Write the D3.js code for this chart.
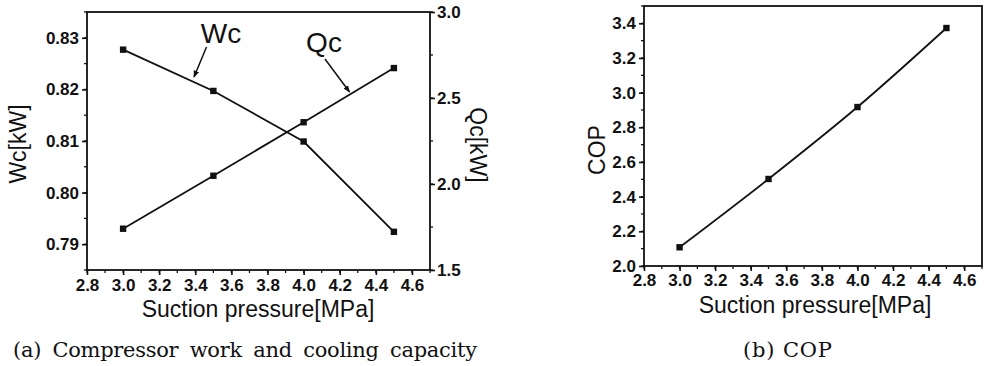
<!DOCTYPE html>
<html>
<head>
<meta charset="utf-8">
<script src="https://cdn.jsdelivr.net/npm/d3@7"></script>
<style>
  body { margin: 0; background: #fff; }
  svg { display: block; }
  .tick text { font-family: "Liberation Sans", Arial, sans-serif; font-weight: bold; font-size: 17px; fill: #111; }
  .domain, .tick line { stroke: #111; stroke-width: 1.6; }
</style>
</head>
<body>
<div id="chart"></div>
<script>
var width = 986, height = 366;

// data
var pressure = [3.0, 3.5, 4.0, 4.5];
var wcValues = [0.8277, 0.8197, 0.8099, 0.7924];
var qcValues = [1.740, 2.048, 2.359, 2.674];
var copValues = [2.108, 2.502, 2.917, 3.373];

var xTicks = [2.8, 3.0, 3.2, 3.4, 3.6, 3.8, 4.0, 4.2, 4.4, 4.6];
var wcTicks = [0.79, 0.80, 0.81, 0.82, 0.83];
var qcTicks = [1.5, 2.0, 2.5, 3.0];
var copTicks = [2.0, 2.2, 2.4, 2.6, 2.8, 3.0, 3.2, 3.4];

var svg = d3.select('#chart').append('svg')
    .attr('width', width)
    .attr('height', height);

var defs = svg.append('defs');
defs.append('marker')
    .attr('id', 'arrow')
    .attr('viewBox', '0 0 10 10')
    .attr('refX', 9).attr('refY', 5)
    .attr('markerWidth', 7).attr('markerHeight', 7)
    .attr('markerUnits', 'userSpaceOnUse')
    .attr('orient', 'auto')
    .append('path')
    .attr('d', 'M0,1 L10,5 L0,9 Z')
    .attr('fill', '#111');

function minorTicks(scale, step) {
    var d = scale.domain(), out = [];
    var lo = Math.min(d[0], d[1]), hi = Math.max(d[0], d[1]);
    for (var v = Math.ceil(lo / step - 1e-6) * step; v <= hi + 1e-9; v += step) out.push(+v.toFixed(6));
    return out;
}

function drawMinor(g, scale, step, orient, len) {
    var vals = minorTicks(scale, step);
    g.selectAll('line.minor').data(vals).enter().append('line')
        .attr('class', 'minor')
        .attr('stroke', '#111').attr('stroke-width', 1.3)
        .attr('x1', (d) => orient === 'v' ? 0 : scale(d))
        .attr('x2', (d) => orient === 'v' ? len : scale(d))
        .attr('y1', (d) => orient === 'v' ? scale(d) : 0)
        .attr('y2', (d) => orient === 'v' ? scale(d) : len);
}

function frame(g, w, h) {
    g.append('rect')
        .attr('x', 0).attr('y', 0)
        .attr('width', w).attr('height', h)
        .attr('fill', 'none')
        .attr('stroke', '#111')
        .attr('stroke-width', 1.8);
}

function squares(g, data, x, y) {
    g.selectAll(null).data(data).enter().append('rect')
        .attr('x', (d) => x(d[0]) - 3.2)
        .attr('y', (d) => y(d[1]) - 3.2)
        .attr('width', 6.4).attr('height', 6.4)
        .attr('fill', '#111');
}

function label(txt, x, y, size, rot, anchor, family) {
    var t = svg.append('text')
        .attr('transform', 'translate(' + x + ',' + y + ')' + (rot ? ' rotate(' + rot + ')' : ''))
        .attr('text-anchor', anchor || 'middle')
        .attr('font-family', family || '"Liberation Sans", Arial, sans-serif')
        .attr('font-size', size)
        .attr('fill', '#111')
        .text(txt);
    return t;
}

var serif = '"DejaVu Serif", "Liberation Serif", serif';

// ---------- panel (a) ----------
var a = { left: 87, top: 12, right: 430, bottom: 270 };
var xa = d3.scaleLinear().domain([2.8, 4.7]).range([a.left, a.right]);
var yWc = d3.scaleLinear().domain([0.785, 0.835]).range([a.bottom, a.top]);
var yQc = d3.scaleLinear().domain([1.5, 3.0]).range([a.bottom, a.top]);

var gA = svg.append('g');
gA.append('g').attr('transform', 'translate(' + a.left + ',' + a.top + ')')
    .call(frame, a.right - a.left, a.bottom - a.top);

var xAxisA = gA.append('g').attr('transform', 'translate(0,' + a.bottom + ')')
    .call(d3.axisBottom(xa).tickValues(xTicks).tickFormat(d3.format('.1f')).tickSize(5).tickPadding(4));
drawMinor(xAxisA, xa, 0.1, 'h', 3);

var yAxisWc = gA.append('g').attr('transform', 'translate(' + a.left + ',0)')
    .call(d3.axisLeft(yWc).tickValues(wcTicks).tickFormat(d3.format('.2f')).tickSize(5).tickPadding(3));
drawMinor(yAxisWc, yWc, 0.005, 'v', -3);

var yAxisQc = gA.append('g').attr('transform', 'translate(' + a.right + ',0)')
    .call(d3.axisRight(yQc).tickValues(qcTicks).tickFormat(d3.format('.1f')).tickSize(5).tickPadding(2));
drawMinor(yAxisQc, yQc, 0.25, 'v', 3);
gA.selectAll('.domain').remove();

var lineWc = d3.line().x((d) => xa(d[0])).y((d) => yWc(d[1]));
var lineQc = d3.line().x((d) => xa(d[0])).y((d) => yQc(d[1]));
var wcData = d3.zip(pressure, wcValues);
var qcData = d3.zip(pressure, qcValues);

gA.append('path').datum(wcData).attr('d', lineWc)
    .attr('fill', 'none').attr('stroke', '#111').attr('stroke-width', 1.8);
gA.append('path').datum(qcData).attr('d', lineQc)
    .attr('fill', 'none').attr('stroke', '#111').attr('stroke-width', 1.8);
squares(gA.append('g'), wcData, xa, yWc);
squares(gA.append('g'), qcData, xa, yQc);

// annotations with arrows
label('Wc', 221, 43, 28);
gA.append('line')
    .attr('x1', 206.5).attr('y1', 47).attr('x2', 194).attr('y2', 77)
    .attr('stroke', '#111').attr('stroke-width', 1.5)
    .attr('marker-end', 'url(#arrow)');
label('Qc', 324, 52, 28);
gA.append('line')
    .attr('x1', 325).attr('y1', 59).attr('x2', 349.5).attr('y2', 92)
    .attr('stroke', '#111').attr('stroke-width', 1.5)
    .attr('marker-end', 'url(#arrow)');

label('Suction pressure[MPa]', 258, 317, 23);
label('Wc[kW]', 26, 144, 23, -90);
label('Qc[kW]', 470, 145, 23, 90);
label('(a) Compressor work and cooling capacity', 13, 357, 21, 0, 'start', serif)
    .attr('word-spacing', 5)
    .attr('textLength', 464).attr('lengthAdjust', 'spacing');

// ---------- panel (b) ----------
var b = { left: 644, top: 6, right: 982, bottom: 266 };
var xb = d3.scaleLinear().domain([2.8, 4.7]).range([b.left, b.right]);
var yCop = d3.scaleLinear().domain([2.0, 3.5]).range([b.bottom, b.top]);

var gB = svg.append('g');
gB.append('g').attr('transform', 'translate(' + b.left + ',' + b.top + ')')
    .call(frame, b.right - b.left, b.bottom - b.top);

var xAxisB = gB.append('g').attr('transform', 'translate(0,' + b.bottom + ')')
    .call(d3.axisBottom(xb).tickValues(xTicks).tickFormat(d3.format('.1f')).tickSize(5).tickPadding(3));
drawMinor(xAxisB, xb, 0.1, 'h', 3);

var yAxisCop = gB.append('g').attr('transform', 'translate(' + b.left + ',0)')
    .call(d3.axisLeft(yCop).tickValues(copTicks).tickFormat(d3.format('.1f')).tickSize(5).tickPadding(3));
drawMinor(yAxisCop, yCop, 0.1, 'v', -3);
gB.selectAll('.domain').remove();

var copData = d3.zip(pressure, copValues);
var lineCop = d3.line().curve(d3.curveCatmullRom).x((d) => xb(d[0])).y((d) => yCop(d[1]));
gB.append('path').datum(copData).attr('d', lineCop)
    .attr('fill', 'none').attr('stroke', '#111').attr('stroke-width', 1.8);
squares(gB.append('g'), copData, xb, yCop);

label('Suction pressure[MPa]', 815, 313, 23);
label('COP', 605, 150, 23, -90);
label('(b) COP', 743, 357, 21, 0, 'start', serif)
    .attr('textLength', 89).attr('lengthAdjust', 'spacing');
</script>
</body>
</html>
